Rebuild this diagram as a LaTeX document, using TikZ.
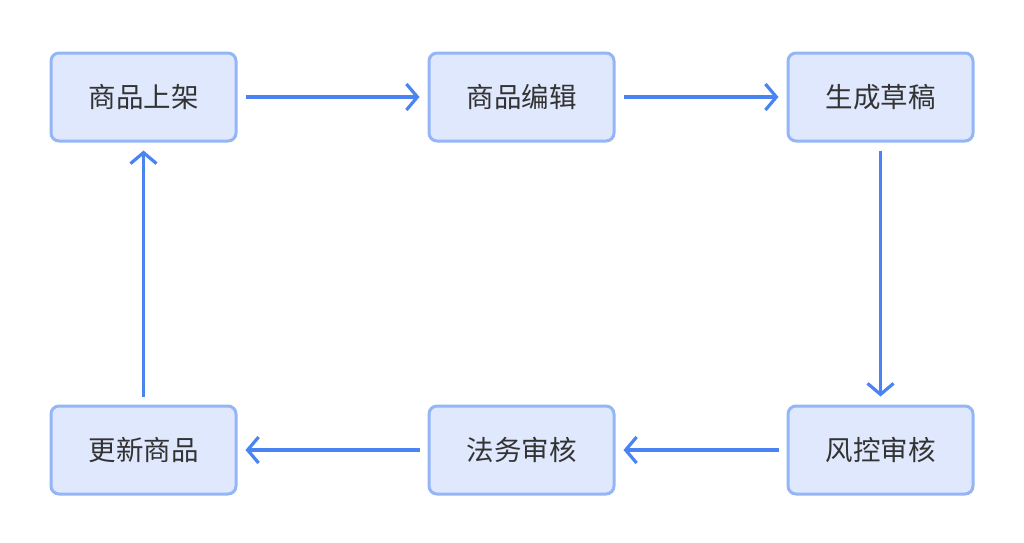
\documentclass[tikz,border=0pt]{standalone}
\usepackage{fontspec}
\usepackage{xcolor}
\usepackage{tikz}
\usetikzlibrary{arrows.meta, positioning}
\setmainfont{Noto Sans CJK SC}
\definecolor{boxblue}{HTML}{DFE8FC}
\definecolor{boxline}{HTML}{94B6F7}
\definecolor{flowblue}{HTML}{4B83F2}
\definecolor{textgray}{HTML}{333333}

\begin{document}
\begin{tikzpicture}[
        x=1pt, y=1pt,
        node distance=262pt and 191pt,
        etapa/.style={draw=boxline,fill=boxblue,line width=3pt,rounded corners=8pt,minimum width=185pt,minimum height=88pt,align=center,text=textgray,font=\fontsize{27.5}{32}\selectfont},
        fluxo/.style={-{Straight Barb[length=11pt,width=26pt]},line width=3.2pt,flowblue,shorten <=8pt,shorten >=8pt}
    ]
        \useasboundingbox (0,0) rectangle (1024,-542);
        \node[etapa] (listing) at (143.5,-97) {商品上架};
        \node[etapa,right=190pt of listing] (editing) {商品编辑};
        \node[etapa,right=171pt of editing] (draft) {生成草稿};
        \node[etapa,below=of draft] (risk) {风控审核};
        \node[etapa,below=of editing] (legal) {法务审核};
        \node[etapa,below=of listing] (update) {更新商品};

        \draw[fluxo] (listing) -- (editing);
        \draw[fluxo] (editing) -- (draft);
        \draw[fluxo] (draft) -- (risk);
        \draw[fluxo] (risk) -- (legal);
        \draw[fluxo] (legal) -- (update);
        \draw[fluxo] (update) -- (listing);
    \end{tikzpicture}
\end{document}
